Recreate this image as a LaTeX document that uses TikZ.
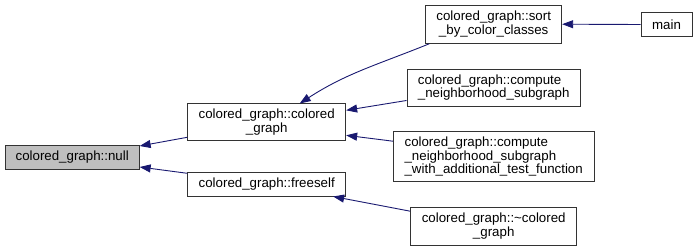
\documentclass[tikz,border=0pt]{standalone}
\usepackage{fontspec}
\setmainfont{Liberation Sans}
\usetikzlibrary{arrows, arrows.meta}
\definecolor{edgeblue}{HTML}{191970}
\definecolor{nullgray}{HTML}{BFBFBF}
\newcommand{\us}{\_}

\begin{document}
\begin{tikzpicture}[x=1pt, y=-1pt,
    fn/.style={draw=black!80, line width=0.9pt, fill=white, inner sep=0pt, align=center,
      font=\fontsize{13.3}{13.6}\selectfont},
    fnleft/.style={fn, align=left},
    call/.style={draw=edgeblue, line width=0.9pt, {Triangle[length=11pt,width=8pt]}-}]
    \useasboundingbox (0,0) rectangle (697,251);

    % functions
    \node[fn, fill=nullgray, minimum width=134pt, minimum height=24pt] (null) at (72.2,157) {colored\us graph::null};
    \node[fn, minimum width=158pt, minimum height=36.7pt] (colored) at (266.7,122.3) {colored\us graph::colored\\\us graph};
    \node[fn, minimum width=158pt, minimum height=23.5pt] (freeself) at (266.7,184.3) {colored\us graph::freeself};
    \node[fn, minimum width=136pt, minimum height=38.3pt] (sort) at (493.7,24.2) {colored\us graph::sort\\\us by\us color\us classes};
    \node[fnleft, minimum width=173.5pt, minimum height=37pt] (nbhd) at (493.7,87.5) {colored\us graph::compute\\\us neighborhood\us subgraph};
    \node[fnleft, minimum width=200.7pt, minimum height=50pt] (nbhdtest) at (493.7,156.7) {colored\us graph::compute\\\us neighborhood\us subgraph\\\us with\us additional\us test\us function};
    \node[fn, minimum width=166pt, minimum height=37.7pt] (dtor) at (493.7,226.2) {colored\us graph::\textasciitilde colored\\\us graph};
    \node[fn, minimum width=51pt, minimum height=24.4pt] (main) at (666.5,24.5) {main};

    % callers
    \draw[call] ([yshift=11pt]null.east) -- ([yshift=-15pt]colored.west);
    \draw[call] ([yshift=-10pt]null.east) -- ([yshift=11pt]freeself.west);
    \draw[call] ([xshift=33pt]colored.north) to[out=33, in=202] ([xshift=4pt]sort.south west);
    \draw[call] ([yshift=12pt]colored.east) -- ([yshift=-13pt]nbhd.west);
    \draw[call] ([yshift=-13pt]colored.east) -- ([yshift=15.5pt]nbhdtest.west);
    \draw[call] ([xshift=-13pt]freeself.south east) -- ([yshift=15pt]dtor.west);
    \draw[call] (sort.east) -- (main.west);
\end{tikzpicture}
\end{document}
